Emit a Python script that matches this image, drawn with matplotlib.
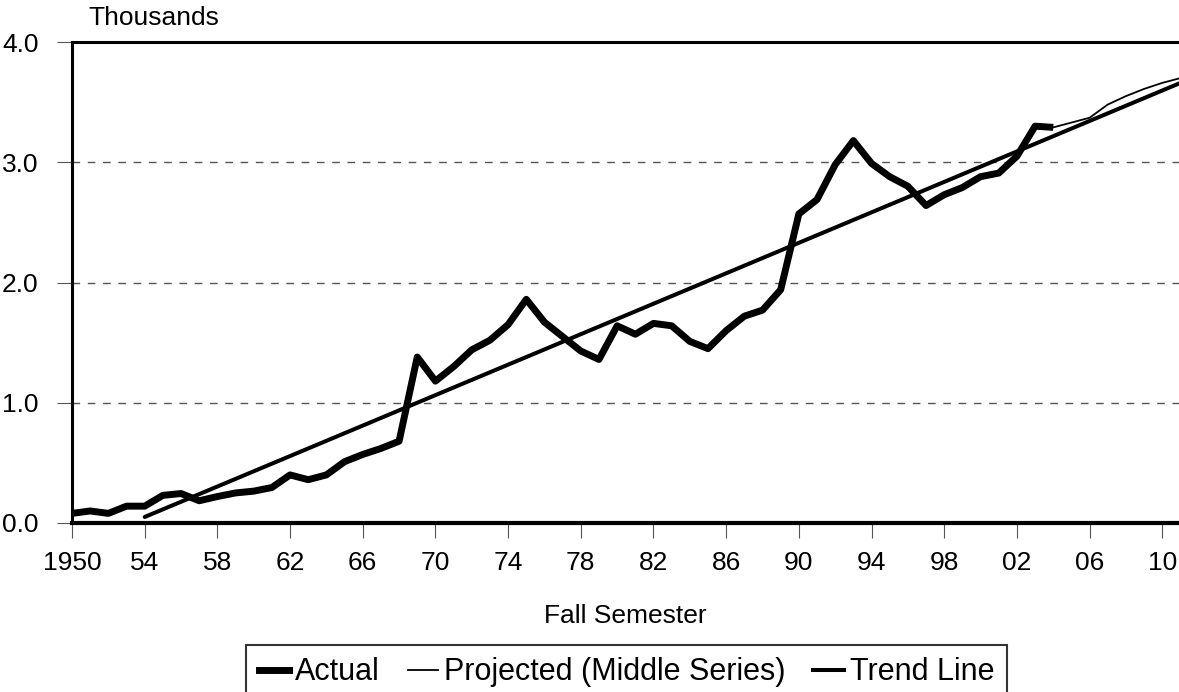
import matplotlib
matplotlib.use("Agg")
import matplotlib.pyplot as plt
from matplotlib.lines import Line2D

plt.rcParams['font.family'] = ['Liberation Sans', 'DejaVu Sans']

# ---- data ----
actual_years = list(range(1950, 2005))
actual_vals = [0.08, 0.10, 0.08, 0.14, 0.14, 0.23, 0.245, 0.185, 0.22, 0.25,
               0.265, 0.295, 0.40, 0.36, 0.40, 0.51, 0.57, 0.62, 0.68, 1.38,
               1.18, 1.30, 1.44, 1.52, 1.65, 1.86, 1.67, 1.55, 1.43, 1.36,
               1.64, 1.57, 1.66, 1.64, 1.51, 1.45, 1.60, 1.72, 1.77, 1.94,
               2.57, 2.69, 2.98, 3.18, 2.99, 2.88, 2.80, 2.64, 2.73, 2.79,
               2.88, 2.91, 3.05, 3.30, 3.29]
proj_years = [2004, 2005, 2006, 2007, 2008, 2009, 2010, 2011]
proj_vals = [3.29, 3.33, 3.37, 3.48, 3.55, 3.61, 3.66, 3.70]
trend_years = [1954, 2011]
trend_vals = [0.05, 3.66]

tick_years = list(range(1950, 2011, 4))
tick_labels = ['1950'] + [f"{y % 100:02d}" for y in tick_years[1:]]
y_ticks = [0.0, 1.0, 2.0, 3.0, 4.0]
y_labels = ['0.0', '1.0', '2.0', '3.0', '4.0']

W, H = 1179, 692
fig = plt.figure(figsize=(W / 100, H / 100), dpi=100)
ax = fig.add_axes([72 / W, 1 - 523 / H, 1 - 72 / W, (523 - 42) / H])

ax.set_xlim(1950, 2010.92)
ax.set_ylim(0, 4.0)

# grid
for g in [1.0, 2.0, 3.0]:
    ax.axhline(g, color='#555555', lw=1.0, ls=(0, (5.5, 5.5)), zorder=1)

ax.plot(trend_years, trend_vals, color='black', lw=2.9, solid_capstyle='round', zorder=3)
ax.plot(proj_years, proj_vals, color='black', lw=1.3, zorder=3)
ax.plot(actual_years, actual_vals, color='black', lw=5.0,
        solid_joinstyle='round', solid_capstyle='butt', zorder=4)

for s in ['left', 'bottom', 'top']:
    ax.spines[s].set_color('black')
ax.spines['left'].set_linewidth(2.2)
ax.spines['bottom'].set_linewidth(3.0)
ax.spines['top'].set_linewidth(2.2)
ax.spines['right'].set_visible(False)

ax.set_xticks(tick_years)
ax.set_xticklabels(tick_labels)
ax.set_yticks(y_ticks)
ax.set_yticklabels(y_labels)
ax.tick_params(axis='x', direction='out', length=11, width=0.8, color='#555555',
               pad=9, labelsize=19, labelcolor='black')
ax.tick_params(axis='y', direction='out', length=11, width=0.8, color='#555555',
               pad=13, labelsize=19, labelcolor='black')

fig.text(88 / W, 1 - 18 / H, 'Thousands', fontsize=19, ha='left', va='center')
fig.text(625 / W, 1 - 616 / H, 'Fall Semester', fontsize=19, ha='center', va='center')

handles = [Line2D([], [], color='black', lw=5.0),
           Line2D([], [], color='black', lw=1.3),
           Line2D([], [], color='black', lw=2.9)]
labels = ['Actual', 'Projected (Middle Series)', 'Trend Line']
leg = fig.legend(handles, labels, loc='upper center',
                 bbox_to_anchor=(626.5 / W, 1 - 645 / H),
                 ncol=3, frameon=True, fancybox=False, fontsize=22,
                 handlelength=1.0, handletextpad=0.2, columnspacing=0.9,
                 borderpad=0.4, borderaxespad=0)
leg.get_frame().set_edgecolor('black')
leg.get_frame().set_linewidth(1.5)

fig.savefig('out.png', dpi=100)
